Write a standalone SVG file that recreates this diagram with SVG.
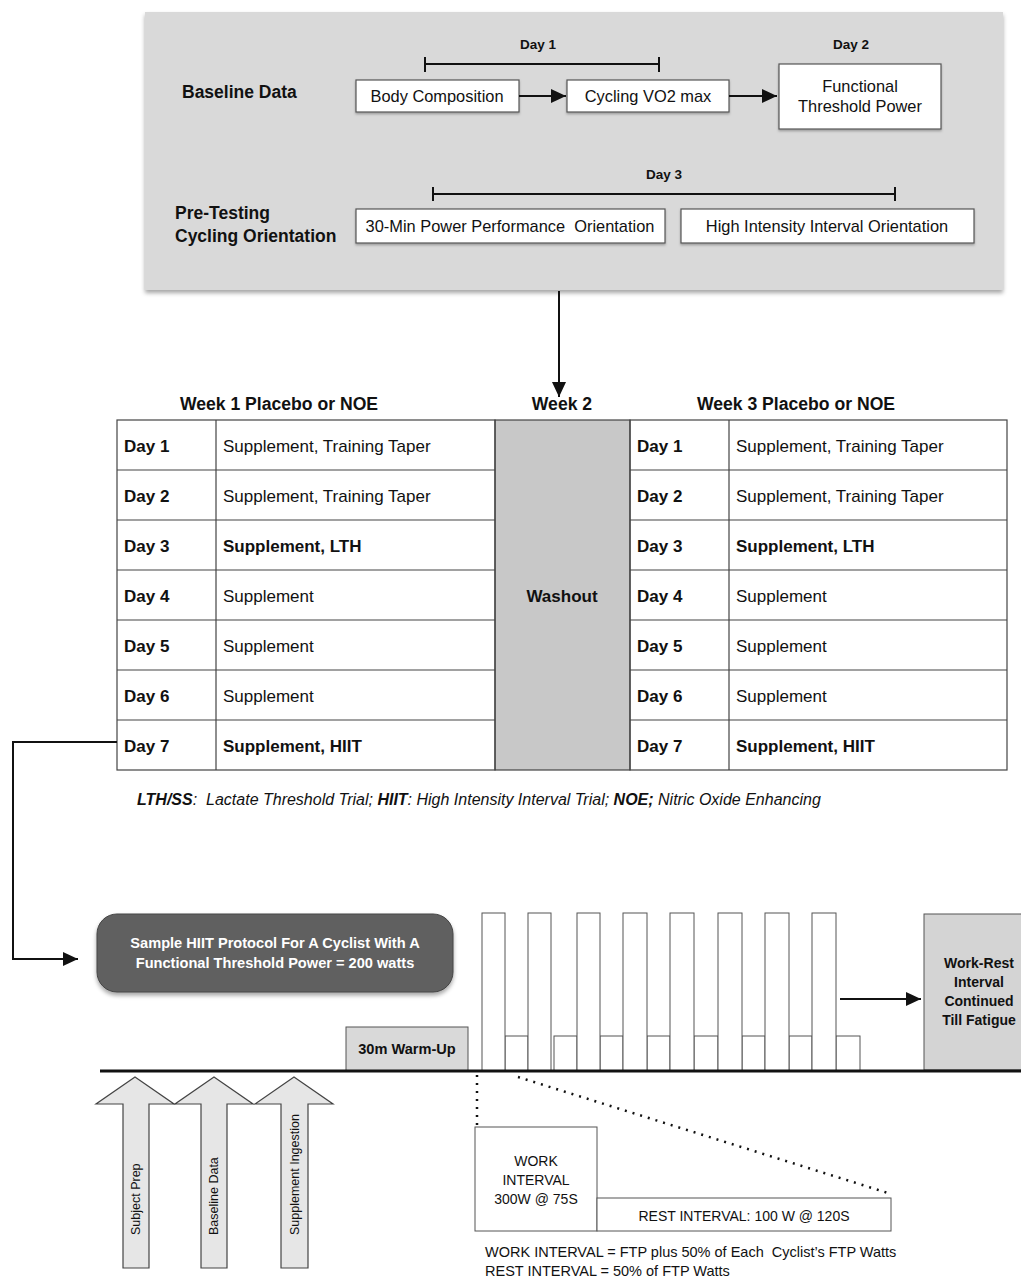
<svg xmlns="http://www.w3.org/2000/svg" width="1021" height="1278" viewBox="0 0 1021 1278">
<style>
text{font-family:"Liberation Sans",Arial,sans-serif;fill:#111}
.b{font-weight:bold}
.box{fill:#fff;stroke:#555;stroke-width:1.2}
.cell{fill:none;stroke:#444;stroke-width:1.2}
.t16{font-size:17.5px}
.t17{font-size:17px}
.bx{font-size:16.4px}
.lt{fill:#333}
.bar{fill:#fff;stroke:#555;stroke-width:1}
.up{fill:#e6e6e6;stroke:#444;stroke-width:1.2}
.ln{stroke:#111;stroke-width:2;fill:none}
.dot{stroke:#111;stroke-width:2.5;stroke-dasharray:2 6;fill:none}
.c{text-anchor:middle}
</style>
<defs>
<filter id="sh" x="-5%" y="-5%" width="110%" height="120%">
<feDropShadow dx="0" dy="3" stdDeviation="2" flood-color="#000" flood-opacity="0.35"/>
</filter>
<filter id="sh2" x="-5%" y="-5%" width="110%" height="120%">
<feDropShadow dx="0" dy="1.5" stdDeviation="1" flood-color="#000" flood-opacity="0.3"/>
</filter>
<marker id="ah" markerWidth="16" markerHeight="14" refX="15" refY="7" orient="auto" markerUnits="userSpaceOnUse" viewBox="0 0 16 14">
<path d="M0,0 L15,7 L0,14 z" fill="#111"/>
</marker>
</defs>

<g id="panel">
<rect x="145" y="12" width="858" height="278" fill="#d9d9d9" filter="url(#sh)"/>
<text x="182" y="98" class="b t16">Baseline Data</text>
<text x="175" y="219" class="b t16">Pre-Testing</text>
<text x="175" y="242" class="b t16">Cycling Orientation</text>
<text x="538" y="49" class="b c" font-size="13.5">Day 1</text>
<text x="851" y="49" class="b c" font-size="13.5">Day 2</text>
<text x="664" y="179" class="b c" font-size="13.5">Day 3</text>
<path d="M425,64 H659 M425,57 V72 M659,57 V72" class="ln"/>
<path d="M433,194 H895 M433,187 V201 M895,187 V201" class="ln"/>
</g>

<g id="body-composition">
<rect x="356" y="80" width="163" height="32" class="box" filter="url(#sh2)"/>
<text x="437" y="102" class="c bx">Body Composition</text>
</g>
<g id="cycling-vo2">
<rect x="567" y="80" width="162" height="32" class="box" filter="url(#sh2)"/>
<text x="648" y="102" class="c bx">Cycling VO2 max</text>
</g>
<g id="ftp">
<rect x="779" y="64" width="162" height="65" class="box" filter="url(#sh2)"/>
<text x="860" y="92" class="c bx">Functional</text>
<text x="860" y="112" class="c bx">Threshold Power</text>
</g>
<g id="power-orientation">
<rect x="356" y="209" width="309" height="34" class="box" filter="url(#sh2)"/>
<text x="510" y="232" class="c bx" xml:space="preserve">30-Min Power Performance  Orientation</text>
</g>
<g id="hi-orientation">
<rect x="681" y="209" width="293" height="34" class="box" filter="url(#sh2)"/>
<text x="827" y="232" class="c bx">High Intensity Interval Orientation</text>
</g>

<g id="table">
<text x="279" y="410" class="b c" font-size="17.6">Week 1 Placebo or NOE</text>
<text x="562" y="410" class="b c" font-size="17.6">Week 2</text>
<text x="796" y="410" class="b c" font-size="17.6">Week 3 Placebo or NOE</text>
<rect x="495" y="420" width="135" height="350" fill="#c8c8c8" stroke="#444" stroke-width="1.2"/>
<text x="562" y="602" class="b c t17">Washout</text>
<rect x="117" y="420" width="378" height="350" class="cell"/>
<rect x="630" y="420" width="377" height="350" class="cell"/>
<path d="M216,420 V770 M729,420 V770 M117,470 H495 M117,520 H495 M117,570 H495 M117,620 H495 M117,670 H495 M117,720 H495 M630,470 H1007 M630,520 H1007 M630,570 H1007 M630,620 H1007 M630,670 H1007 M630,720 H1007" class="cell"/>
<g class="b t17">
<text x="124" y="452">Day 1</text><text x="124" y="502">Day 2</text><text x="124" y="552">Day 3</text><text x="124" y="602">Day 4</text><text x="124" y="652">Day 5</text><text x="124" y="702">Day 6</text><text x="124" y="752">Day 7</text>
<text x="637" y="452">Day 1</text><text x="637" y="502">Day 2</text><text x="637" y="552">Day 3</text><text x="637" y="602">Day 4</text><text x="637" y="652">Day 5</text><text x="637" y="702">Day 6</text><text x="637" y="752">Day 7</text>
</g>
<g class="t17 lt">
<text x="223" y="452">Supplement, Training Taper</text><text x="223" y="502">Supplement, Training Taper</text><text x="223" y="602">Supplement</text><text x="223" y="652">Supplement</text><text x="223" y="702">Supplement</text>
<text x="736" y="452">Supplement, Training Taper</text><text x="736" y="502">Supplement, Training Taper</text><text x="736" y="602">Supplement</text><text x="736" y="652">Supplement</text><text x="736" y="702">Supplement</text>
</g>
<g class="b t17">
<text x="223" y="552">Supplement, LTH</text><text x="223" y="752">Supplement, HIIT</text>
<text x="736" y="552">Supplement, LTH</text><text x="736" y="752">Supplement, HIIT</text>
</g>
<text x="137" y="805" font-size="16" font-style="italic" fill="#222" xml:space="preserve"><tspan font-weight="bold" fill="#111">LTH/SS</tspan>:  Lactate Threshold Trial; <tspan font-weight="bold" fill="#111">HIIT</tspan>: High Intensity Interval Trial; <tspan font-weight="bold" fill="#111">NOE;</tspan> Nitric Oxide Enhancing</text>
</g>

<g id="hiit-title">
<rect x="97" y="914" width="356" height="78" rx="20" fill="#616161" stroke="#444" filter="url(#sh)"/>
<text x="275" y="948" class="b c" font-size="14.6" style="fill:#fff">Sample HIIT Protocol For A Cyclist With A</text>
<text x="275" y="968" class="b c" font-size="14.6" style="fill:#fff">Functional Threshold Power = 200 watts</text>
</g>

<g id="warmup">
<rect x="346" y="1027" width="122" height="44" fill="#d9d9d9" stroke="#555"/>
<text x="407" y="1054" class="b c" font-size="14.6">30m Warm-Up</text>
</g>

<g id="intervals">
<rect x="505" y="1036" width="23" height="35" class="bar"/>
<rect x="554" y="1036" width="23" height="35" class="bar"/>
<rect x="600" y="1036" width="23" height="35" class="bar"/>
<rect x="647" y="1036" width="23" height="35" class="bar"/>
<rect x="694" y="1036" width="24" height="35" class="bar"/>
<rect x="742" y="1036" width="23" height="35" class="bar"/>
<rect x="789" y="1036" width="23" height="35" class="bar"/>
<rect x="836" y="1036" width="24" height="35" class="bar"/>
<rect x="482" y="913" width="23" height="158" class="bar"/>
<rect x="528" y="913" width="23" height="158" class="bar"/>
<rect x="577" y="913" width="23" height="158" class="bar"/>
<rect x="623" y="913" width="24" height="158" class="bar"/>
<rect x="670" y="913" width="24" height="158" class="bar"/>
<rect x="718" y="913" width="24" height="158" class="bar"/>
<rect x="765" y="913" width="24" height="158" class="bar"/>
<rect x="812" y="913" width="24" height="158" class="bar"/>
</g>

<g id="work-rest">
<rect x="924" y="914" width="100" height="156" fill="#d4d4d4" stroke="#555"/>
<text x="979" y="968" class="b c" font-size="14">Work-Rest</text>
<text x="979" y="987" class="b c" font-size="14">Interval</text>
<text x="979" y="1006" class="b c" font-size="14">Continued</text>
<text x="979" y="1025" class="b c" font-size="14">Till Fatigue</text>
</g>

<g id="work-interval">
<rect x="475" y="1127" width="122" height="104" class="bar"/>
<text x="536" y="1166" class="c" font-size="14">WORK</text>
<text x="536" y="1185" class="c" font-size="14">INTERVAL</text>
<text x="536" y="1204" class="c" font-size="14">300W @ 75S</text>
</g>
<g id="rest-interval">
<rect x="597" y="1198" width="294" height="33" class="bar"/>
<text x="744" y="1221" class="c" font-size="14">REST INTERVAL: 100 W @ 120S</text>
</g>
<text x="485" y="1257" font-size="14.5" xml:space="preserve">WORK INTERVAL = FTP plus 50% of Each  Cyclist’s FTP Watts</text>
<text x="485" y="1276" font-size="14.5">REST INTERVAL = 50% of FTP Watts</text>

<g id="subject-prep">
<polygon points="135,1077 174,1104 149,1104 149,1268 123,1268 123,1104 96,1104" class="up"/>
<text transform="translate(140,1235) rotate(-90)" font-size="12.5">Subject Prep</text>
</g>
<g id="baseline-data">
<polygon points="214,1077 253,1104 227,1104 227,1268 201,1268 201,1104 175,1104" class="up"/>
<text transform="translate(218,1235) rotate(-90)" font-size="12.5">Baseline Data</text>
</g>
<g id="supplement-ingestion">
<polygon points="294,1077 333,1104 308,1104 308,1268 281,1268 281,1104 255,1104" class="up"/>
<text transform="translate(299,1235) rotate(-90)" font-size="12.5">Supplement Ingestion</text>
</g>

<g id="connectors">
<line x1="519" y1="96" x2="566" y2="96" stroke="#111" stroke-width="2.2" marker-end="url(#ah)"/>
<line x1="729" y1="96" x2="777" y2="96" stroke="#111" stroke-width="2.2" marker-end="url(#ah)"/>
<line x1="559" y1="291" x2="559" y2="397" stroke="#111" stroke-width="2" marker-end="url(#ah)"/>
<polyline points="117,742 13,742 13,959 78,959" stroke="#111" stroke-width="2" fill="none" marker-end="url(#ah)"/>
<line x1="840" y1="999" x2="921" y2="999" stroke="#111" stroke-width="2" marker-end="url(#ah)"/>
<line x1="100" y1="1071" x2="1021" y2="1071" stroke="#111" stroke-width="3"/>
<line x1="477" y1="1075" x2="477" y2="1126" class="dot"/>
<line x1="518" y1="1077" x2="888" y2="1193" class="dot"/>
</g>
</svg>
